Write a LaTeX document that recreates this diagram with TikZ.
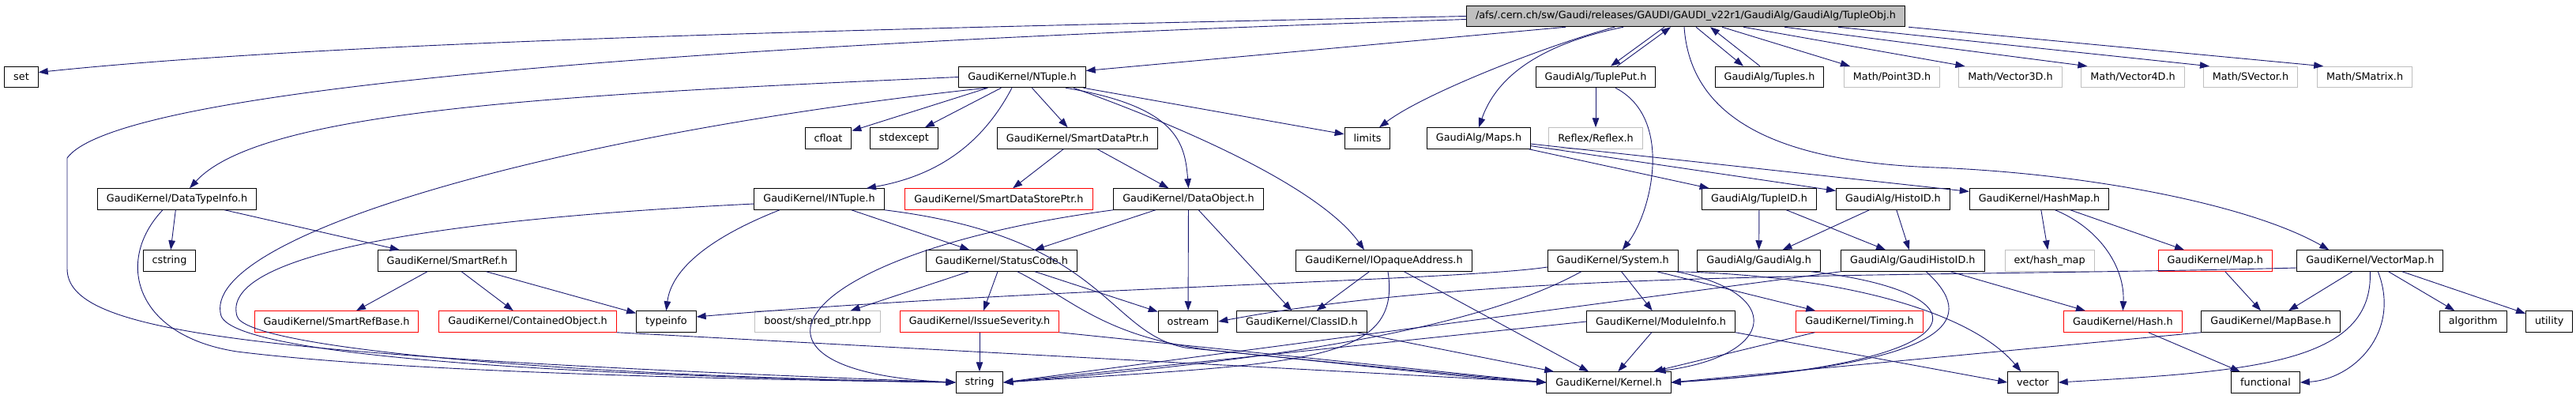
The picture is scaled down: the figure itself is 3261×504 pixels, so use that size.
\documentclass[tikz,border=0pt]{standalone}
\usepackage{fontspec}
\newfontfamily\dejavu{DejaVu Sans}
\usepackage{xcolor}
\usetikzlibrary{arrows.meta}
\definecolor{edgeblue}{HTML}{191970}
\definecolor{sysgray}{HTML}{BFBFBF}
\tikzset{
  file/.style={draw=black, line width=0.9pt, minimum height=26.6pt, inner xsep=11.5pt, inner ysep=0pt, font=\dejavu\fontsize{12.8}{15}\selectfont},
  undocfile/.style={file, draw=red},
  sysfile/.style={file, draw=sysgray},
  incl/.style={draw=edgeblue, line width=0.9pt, -{Triangle[length=12pt,width=8.5pt]}}
}
\begin{document}
\begin{tikzpicture}[x=1pt,y=-1pt]
      \useasboundingbox (0,0) rectangle (3261,504);
      \node[file, fill=sysgray] (tupleobj) at (2134,20.5) {/afs/.cern.ch/sw/Gaudi/releases/GAUDI/GAUDI\_v22r1/GaudiAlg/GaudiAlg/TupleObj.h};
      \node[file] (set) at (27,97.5) {set};
      \node[file] (ntuple) at (1294,97.5) {GaudiKernel/NTuple.h};
      \node[file] (tupleput) at (2020,97.5) {GaudiAlg/TuplePut.h};
      \node[file] (tuples) at (2240,97.5) {GaudiAlg/Tuples.h};
      \node[sysfile] (point) at (2395,97.5) {Math/Point3D.h};
      \node[sysfile] (vecthree) at (2545,97.5) {Math/Vector3D.h};
      \node[sysfile] (vecfour) at (2700,97.5) {Math/Vector4D.h};
      \node[sysfile] (svector) at (2849,97.5) {Math/SVector.h};
      \node[sysfile] (smatrix) at (2993.6,97.5) {Math/SMatrix.h};
      \node[file] (cfloat) at (1048.5,175) {cfloat};
      \node[file] (stdexcept) at (1144.4,175) {stdexcept};
      \node[file] (smartdataptr) at (1364,175) {GaudiKernel/SmartDataPtr.h};
      \node[file] (limits) at (1731,175) {limits};
      \node[file] (maps) at (1872,175) {GaudiAlg/Maps.h};
      \node[sysfile] (reflex) at (2020,175) {Reflex/Reflex.h};
      \node[file] (datatypeinfo) at (224,252) {GaudiKernel/DataTypeInfo.h};
      \node[file] (intuple) at (1037,252) {GaudiKernel/INTuple.h};
      \node[undocfile] (smartdatastoreptr) at (1264.4,252) {GaudiKernel/SmartDataStorePtr.h};
      \node[file] (dataobject) at (1504.5,252) {GaudiKernel/DataObject.h};
      \node[file] (tupleid) at (2227,252) {GaudiAlg/TupleID.h};
      \node[file] (histoid) at (2396.4,252) {GaudiAlg/HistoID.h};
      \node[file] (hashmap) at (2581.5,252) {GaudiKernel/HashMap.h};
      \node[file] (cstring) at (214.5,330) {cstring};
      \node[file] (smartref) at (566,330) {GaudiKernel/SmartRef.h};
      \node[file] (statuscode) at (1268,330) {GaudiKernel/StatusCode.h};
      \node[file] (iopaque) at (1752,330) {GaudiKernel/IOpaqueAddress.h};
      \node[file] (system) at (2041.7,330) {GaudiKernel/System.h};
      \node[file] (gaudialg) at (2226.6,330) {GaudiAlg/GaudiAlg.h};
      \node[file] (gaudihistoid) at (2421.3,330) {GaudiAlg/GaudiHistoID.h};
      \node[sysfile] (exthashmap) at (2594.6,330) {ext/hash\_map};
      \node[undocfile] (map) at (2804.3,330) {GaudiKernel/Map.h};
      \node[file] (vectormap) at (3000.3,330) {GaudiKernel/VectorMap.h};
      \node[undocfile] (smartrefbase) at (426,407) {GaudiKernel/SmartRefBase.h};
      \node[undocfile] (containedobj) at (668,407) {GaudiKernel/ContainedObject.h};
      \node[file] (typeinfo) at (843.4,407) {typeinfo};
      \node[sysfile] (sharedptr) at (1035,407) {boost/shared\_ptr.hpp};
      \node[undocfile] (issueseverity) at (1240,407) {GaudiKernel/IssueSeverity.h};
      \node[file] (ostream) at (1504,407) {ostream};
      \node[file] (classid) at (1648,407) {GaudiKernel/ClassID.h};
      \node[file] (moduleinfo) at (2102.6,407) {GaudiKernel/ModuleInfo.h};
      \node[undocfile] (timing) at (2354,407) {GaudiKernel/Timing.h};
      \node[undocfile] (hash) at (2687.4,407) {GaudiKernel/Hash.h};
      \node[file] (mapbase) at (2874.6,407) {GaudiKernel/MapBase.h};
      \node[file] (algorithm) at (3130.7,407) {algorithm};
      \node[file] (utility) at (3227.2,407) {utility};
      \node[file] (string) at (1240,484) {string};
      \node[file] (kernel) at (2036.5,484) {GaudiKernel/Kernel.h};
      \node[file] (vector) at (2573.4,484) {vector};
      \node[file] (functional) at (2868,484) {functional};

      \foreach \a/\b in {ntuple/cfloat, ntuple/stdexcept, ntuple/smartdataptr, ntuple/limits,
          smartdataptr/smartdatastoreptr, smartdataptr/dataobject, datatypeinfo/cstring, datatypeinfo/smartref,
          smartref/smartrefbase, smartref/containedobj, smartref/typeinfo, intuple/statuscode,
          dataobject/statuscode, dataobject/ostream, dataobject/classid, statuscode/sharedptr,
          statuscode/issueseverity, statuscode/ostream, issueseverity/string, iopaque/classid,
          tupleput/reflex, maps/tupleid, maps/histoid, maps/hashmap, tupleid/gaudialg,
          tupleid/gaudihistoid, histoid/gaudialg, histoid/gaudihistoid, system/moduleinfo,
          system/timing, timing/kernel, moduleinfo/kernel, gaudihistoid/hash, hashmap/exthashmap,
          hashmap/map, map/mapbase, vectormap/mapbase, vectormap/algorithm, vectormap/utility,
          hash/functional, classid/kernel, iopaque/kernel,
          containedobj.south east/kernel.west, issueseverity.south east/kernel.west,
          mapbase.south west/kernel.east, moduleinfo.west/string.east,
          gaudihistoid.south west/string.east, moduleinfo.south east/vector.west}
        \draw[incl] (\a) -- (\b);
      \foreach \s/\b in {46/point, 73/vecthree, 125/vecfour, 193/svector, 282/smatrix}
        \draw[incl] ([xshift=\s pt]tupleobj.south) -- ([xshift=8pt]\b.north west);

      \draw[incl] ([xshift=-27pt]tupleobj.south) -- ([xshift=19pt]tupleput.north);
      \draw[incl] ([xshift=27pt]tupleput.north) -- ([xshift=-19pt]tupleobj.south);
      \draw[incl] ([xshift=13pt]tupleobj.south) -- ([xshift=-33pt]tuples.north);
      \draw[incl] ([xshift=-12pt]tuples.north) -- ([xshift=31pt]tupleobj.south);
      \draw[incl] ([xshift=-152pt]tupleobj.south) -- ([yshift=8pt]ntuple.east);
      \draw[incl] (tupleobj.west) .. controls (1000,38) and (400,55) .. ([yshift=6pt]set.east);
      \draw[incl] ([yshift=-4pt]tupleobj.west) .. controls (900,55) and (150,110) .. (85,200) -- (85,340) .. controls (85,420) and (300,450) .. (string.west);
      \draw[incl] ([xshift=-90pt]tupleobj.south) .. controls (1950,60) and (1800,120) .. ([xshift=15pt]limits.north);
      \draw[incl] ([xshift=-79pt]tupleobj.south) .. controls (1930,60) and (1890,110) .. (maps.north);
      \draw[incl] ([xshift=-2pt]tupleobj.south) .. controls (2140,150) and (2250,205) .. (2450,212) .. controls (2650,220) and (2850,260) .. ([xshift=-52pt]vectormap.north);

      \draw[incl] (ntuple.west) .. controls (700,120) and (330,140) .. ([xshift=16pt]datatypeinfo.north);
      \draw[incl] ([xshift=-45pt]ntuple.south) .. controls (700,170) and (250,300) .. (280,400) .. controls (300,450) and (700,475) .. (string.west);
      \draw[incl] ([xshift=-13pt]ntuple.south) .. controls (1250,170) and (1200,220) .. ([xshift=60pt]intuple.north);
      \draw[incl] ([xshift=55pt]ntuple.south) .. controls (1490,135) and (1500,180) .. (dataobject.north);
      \draw[incl] ([xshift=65pt]ntuple.south) .. controls (1550,180) and (1680,250) .. ([xshift=-25pt]iopaque.north);
      \draw[incl] ([xshift=-18pt]datatypeinfo.south) .. controls (145,330) and (170,425) .. (300,445) .. controls (500,470) and (900,480) .. (string.west);
      \draw[incl] ([yshift=-6pt]intuple.west) .. controls (500,280) and (280,330) .. (300,400) .. controls (310,440) and (700,475) .. (string.west);
      \draw[incl] ([xshift=-50pt]intuple.south) .. controls (900,300) and (850,340) .. (typeinfo.north);
      \draw[incl] (intuple.south east) .. controls (1400,300) and (1400,420) .. (1500,440) .. controls (1700,460) and (1850,475) .. (kernel.west);
      \draw[incl] (dataobject.south west) .. controls (1000,320) and (900,470) .. (string.west);
      \draw[incl] ([xshift=20pt]statuscode.south) .. controls (1360,380) and (1400,430) .. (1550,445) .. controls (1750,465) and (1850,478) .. (kernel.west);
      \draw[incl] ([xshift=5pt]iopaque.south) .. controls (1775,460) and (1650,460) .. (string.east);

      \draw[incl] ([xshift=25pt]tupleput.south) .. controls (2120,150) and (2090,270) .. ([xshift=12pt]system.north);
      \draw[incl] ([xshift=-40pt]system.south) .. controls (1900,400) and (1700,450) .. (string.east);
      \draw[incl] ([yshift=-8pt]system.west) .. controls (1850,355) and (1300,365) .. ([yshift=6pt]typeinfo.east);
      \draw[incl] ([xshift=80pt]system.south) .. controls (2260,370) and (2250,450) .. ([xshift=60pt]kernel.north);
      \draw[incl] (system.south east) .. controls (2350,350) and (2500,400) .. ([xshift=-15pt]vector.north);
      \draw[incl] ([xshift=-12pt]gaudialg.south east) .. controls (2520,370) and (2520,460) .. (kernel.east);
      \draw[incl] ([xshift=17pt]gaudihistoid.south) .. controls (2500,400) and (2490,460) .. (kernel.east);
      \draw[incl] ([xshift=20pt]hashmap.south) .. controls (2660,290) and (2690,340) .. (hash.north);
      \draw[incl] ([yshift=-9pt]vectormap.west) .. controls (2400,352) and (1900,340) .. (ostream.east);
      \draw[incl] (vectormap.south) .. controls (3005,460) and (2850,470) .. (vector.east);
      \draw[incl] ([xshift=10pt]vectormap.south) .. controls (3040,420) and (2980,480) .. (functional.east);
\end{tikzpicture}
\end{document}
